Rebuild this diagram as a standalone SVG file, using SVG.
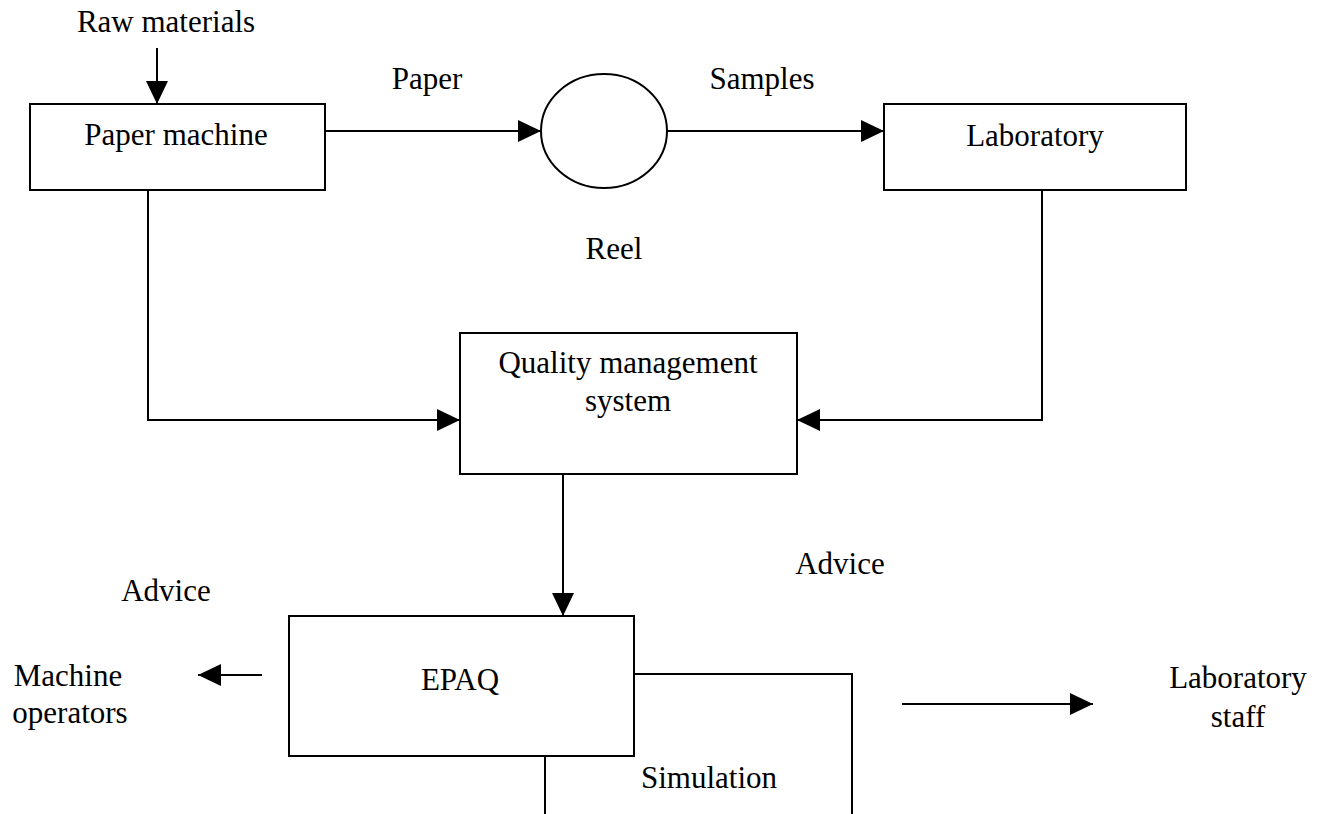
<svg xmlns="http://www.w3.org/2000/svg" width="1325" height="814" viewBox="0 0 1325 814">
<style>
.box{fill:#fff;stroke:#000;stroke-width:2}
.ln{fill:none;stroke:#000;stroke-width:2}
text{font-family:"Liberation Serif","Times New Roman",serif;font-size:31px;fill:#000}
.c{text-anchor:middle}
</style>
<defs>
<marker id="ah" markerUnits="userSpaceOnUse" markerWidth="24" markerHeight="24" refX="23" refY="11" orient="auto" viewBox="0 0 24 22">
<path d="M0,0 L23,11 L0,22 z" fill="#000"/>
</marker>
</defs>
<rect width="1325" height="814" fill="#fff"/>
<g id="connectors">
<line class="ln" x1="157" y1="48" x2="157" y2="104" marker-end="url(#ah)"/>
<line class="ln" x1="325" y1="131" x2="541" y2="131" marker-end="url(#ah)"/>
<line class="ln" x1="667" y1="131" x2="884" y2="131" marker-end="url(#ah)"/>
<polyline class="ln" points="148,190 148,420 460,420" marker-end="url(#ah)"/>
<polyline class="ln" points="1042,190 1042,420 797,420" marker-end="url(#ah)"/>
<line class="ln" x1="563" y1="474" x2="563" y2="616" marker-end="url(#ah)"/>
<line class="ln" x1="262" y1="675" x2="198" y2="675" marker-end="url(#ah)"/>
<polyline class="ln" points="634,674 852,674 852,814"/>
<line class="ln" x1="545" y1="756" x2="545" y2="814"/>
<line class="ln" x1="902" y1="704" x2="1093" y2="704" marker-end="url(#ah)"/>
</g>
<g id="raw-materials"><text class="c" x="166" y="32">Raw materials</text></g>
<g id="paper-machine">
<rect class="box" x="30" y="104" width="295" height="86"/>
<text class="c" x="176" y="145">Paper machine</text>
</g>
<g id="reel">
<ellipse class="box" cx="604" cy="131" rx="63" ry="57"/>
<text class="c" x="614" y="259">Reel</text>
</g>
<g id="laboratory">
<rect class="box" x="884" y="104" width="302" height="86"/>
<text class="c" x="1035" y="146">Laboratory</text>
</g>
<g id="qms">
<rect class="box" x="460" y="333" width="337" height="141"/>
<text class="c" x="628" y="373">Quality management</text>
<text class="c" x="628" y="411">system</text>
</g>
<g id="epaq">
<rect class="box" x="289" y="616" width="345" height="140"/>
<text class="c" x="460" y="690">EPAQ</text>
</g>
<g id="machine-operators">
<text class="c" x="68" y="686">Machine</text>
<text class="c" x="70" y="723">operators</text>
</g>
<g id="laboratory-staff">
<text class="c" x="1238" y="688">Laboratory</text>
<text class="c" x="1238" y="727">staff</text>
</g>
<g id="labels">
<text class="c" x="427" y="89">Paper</text>
<text class="c" x="762" y="89">Samples</text>
<text class="c" x="840" y="574">Advice</text>
<text class="c" x="166" y="601">Advice</text>
<text class="c" x="709" y="788">Simulation</text>
</g>
</svg>
